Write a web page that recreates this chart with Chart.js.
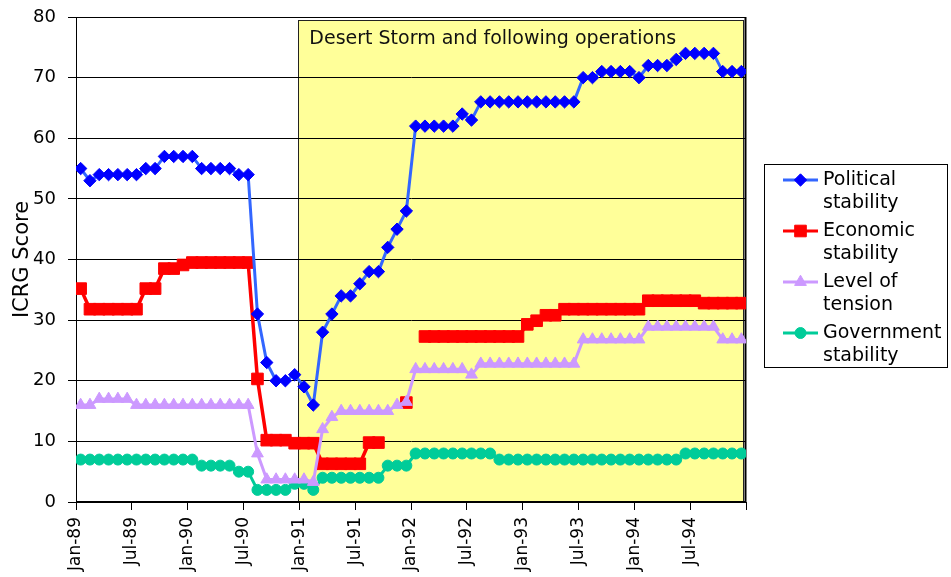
<!DOCTYPE html>
<html>
<head>
<meta charset="utf-8">
<script src="https://cdn.jsdelivr.net/npm/chart.js@4.4.1/dist/chart.umd.min.js"></script>
<style>
html,body{margin:0;padding:0;background:#fff;}
#wrap{width:951px;height:577px;position:relative;}
canvas{display:block;}
</style>
</head>
<body>
<div id="wrap"><canvas id="c" width="951" height="577"></canvas></div>
<script>
// ---- Data ----
const months = [
  'Jan-89','Feb-89','Mar-89','Apr-89','May-89','Jun-89','Jul-89','Aug-89','Sep-89','Oct-89','Nov-89','Dec-89',
  'Jan-90','Feb-90','Mar-90','Apr-90','May-90','Jun-90','Jul-90','Aug-90','Sep-90','Oct-90','Nov-90','Dec-90',
  'Jan-91','Feb-91','Mar-91','Apr-91','May-91','Jun-91','Jul-91','Aug-91','Sep-91','Oct-91','Nov-91','Dec-91',
  'Jan-92','Feb-92','Mar-92','Apr-92','May-92','Jun-92','Jul-92','Aug-92','Sep-92','Oct-92','Nov-92','Dec-92',
  'Jan-93','Feb-93','Mar-93','Apr-93','May-93','Jun-93','Jul-93','Aug-93','Sep-93','Oct-93','Nov-93','Dec-93',
  'Jan-94','Feb-94','Mar-94','Apr-94','May-94','Jun-94','Jul-94','Aug-94','Sep-94','Oct-94','Nov-94','Dec-94'
];

const politicalStability = [
  55,53,54,54,54,54,54,55,55,57,57,57,
  57,55,55,55,55,54,54,31,23,20,20,21,
  19,16,28,31,34,34,36,38,38,42,45,48,
  62,62,62,62,62,64,63,66,66,66,66,66,
  66,66,66,66,66,66,70,70,71,71,71,71,
  70,72,72,72,73,74,74,74,74,71,71,71
];

const economicStability = [
  35.2,31.8,31.8,31.8,31.8,31.8,31.8,35.2,35.2,38.5,38.5,39.1,
  39.5,39.5,39.5,39.5,39.5,39.5,39.5,20.3,10.2,10.2,10.2,9.7,
  9.7,9.7,6.3,6.3,6.3,6.3,6.3,9.8,9.8,null,null,16.4,
  null,27.3,27.3,27.3,27.3,27.3,27.3,27.3,27.3,27.3,27.3,27.3,
  29.3,29.9,30.8,30.8,31.8,31.8,31.8,31.8,31.8,31.8,31.8,31.8,
  31.8,33.2,33.2,33.2,33.2,33.2,33.2,32.8,32.8,32.8,32.8,32.8
];

const levelOfTension = [
  16,16,17,17,17,17,16,16,16,16,16,16,
  16,16,16,16,16,16,16,8,3.7,3.7,3.7,3.7,
  3.7,3.3,12,14,15,15,15,15,15,15,16,16.5,
  21.9,21.9,21.9,21.9,21.9,21.9,21,22.8,22.8,22.8,22.8,22.8,
  22.8,22.8,22.8,22.8,22.8,22.8,26.8,26.8,26.8,26.8,26.8,26.8,
  26.8,28.9,28.9,28.9,28.9,28.9,28.9,28.9,28.9,26.8,26.8,26.8
];

const governmentStability = [
  7,7,7,7,7,7,7,7,7,7,7,7,
  7,6,6,6,6,5,5,2,2,2,2,3,
  3,2,4,4,4,4,4,4,4,6,6,6,
  8,8,8,8,8,8,8,8,8,7,7,7,
  7,7,7,7,7,7,7,7,7,7,7,7,
  7,7,7,7,7,8,8,8,8,8,8,8
];

const seriesNames = [
  ['Political', 'stability'],
  ['Economic', 'stability'],
  ['Level of', 'tension'],
  ['Government', 'stability']
];

const yAxisTitle = 'ICRG Score';
const shadeStartMonth = 'Jan-91';
const shadeTopValue = 79.5;
const shadeLabel = 'Desert Storm and following operations';

// ---- Build ----
const toPoints = vals => vals.map((v, i) => ({ x: i + 0.5, y: v }));
const FONT = '"DejaVu Sans", "Noto Sans", sans-serif';
Chart.defaults.font.family = FONT;
Chart.defaults.color = '#000';

function drawMarker(ctx, style, r, x, y, fill) {
  ctx.save();
  ctx.fillStyle = fill; ctx.strokeStyle = fill; ctx.lineWidth = 1;
  ctx.beginPath();
  if (style === 'circle') {
    ctx.arc(x, y, r, 0, Math.PI * 2);
  } else if (style === 'rect') {
    const s = Math.SQRT1_2 * r;
    ctx.rect(x - s, y - s, 2 * s, 2 * s);
  } else if (style === 'rectRot') {
    ctx.moveTo(x - r, y); ctx.lineTo(x, y - r); ctx.lineTo(x + r, y); ctx.lineTo(x, y + r); ctx.closePath();
  } else if (style === 'triangle') {
    ctx.moveTo(x, y - r);
    ctx.lineTo(x + Math.sin(2 * Math.PI / 3) * r, y + r / 2);
    ctx.lineTo(x - Math.sin(2 * Math.PI / 3) * r, y + r / 2);
    ctx.closePath();
  }
  ctx.fill(); ctx.stroke();
  ctx.restore();
}

const shadePlugin = {
  id: 'shade',
  beforeDraw(chart) {
    const { ctx, chartArea: a, scales: { x, y } } = chart;
    const x0 = Math.round(x.getPixelForValue(months.indexOf(shadeStartMonth))) - 0.5;
    const x1 = Math.round(x.getPixelForValue(months.length)) - 2.5;
    const y0 = Math.round(y.getPixelForValue(shadeTopValue)) + 0.5;
    const y1 = a.bottom;
    ctx.save();
    ctx.fillStyle = '#ffff99';
    ctx.fillRect(x0, y0, x1 - x0, y1 - y0);
    ctx.strokeStyle = '#222';
    ctx.lineWidth = 1;
    ctx.strokeRect(x0, y0, x1 - x0, y1 - y0);
    ctx.restore();
  },
  beforeDatasetsDraw(chart) {
    const { ctx, chartArea: a, scales: { x, y } } = chart;
    ctx.save();
    ctx.strokeStyle = '#000';
    ctx.lineWidth = 1;
    ctx.strokeRect(Math.round(a.left) + 0.5, Math.round(a.top) + 0.5,
                   Math.round(a.right - a.left) - 1, Math.round(a.bottom - a.top) - 1);
    ctx.beginPath();
    ctx.moveTo(Math.round(a.right) - 0.5, a.top);
    ctx.lineTo(Math.round(a.right) - 0.5, a.bottom);
    ctx.lineWidth = 2;
    ctx.stroke();
    ctx.fillStyle = '#111';
    ctx.font = '19px ' + FONT;
    ctx.textBaseline = 'alphabetic';
    ctx.textAlign = 'left';
    const tx = x.getPixelForValue(months.indexOf(shadeStartMonth)) + 10;
    const ty = y.getPixelForValue(shadeTopValue) + 24;
    ctx.fillText(shadeLabel, tx, ty);
    ctx.restore();
  }
};

const legendPlugin = {
  id: 'boxLegend',
  afterDraw(chart) {
    const { ctx } = chart;
    const bx = 764.5, by = 164.5, bw = 183, bh = 203;
    ctx.save();
    ctx.strokeStyle = '#000';
    ctx.lineWidth = 1;
    ctx.strokeRect(bx, by, bw, bh);
    ctx.font = '19px ' + FONT;
    ctx.textBaseline = 'middle';
    ctx.textAlign = 'left';
    chart.data.datasets.forEach((ds, i) => {
      const yy = 180 + i * 51;
      ctx.beginPath();
      ctx.strokeStyle = ds.borderColor;
      ctx.lineWidth = 3;
      ctx.moveTo(783, yy); ctx.lineTo(818, yy);
      ctx.stroke();
      drawMarker(ctx, ds.pointStyle, ds.pointRadius, 800.5, yy, ds.pointBackgroundColor);
      ctx.fillStyle = '#000';
      seriesNames[i].forEach((line, j) => ctx.fillText(line, 823, yy + j * 22.7));
    });
    ctx.restore();
  }
};

const datasets = [
  { label: seriesNames[0].join(' '), data: toPoints(politicalStability),
    borderColor: '#3366ff', borderWidth: 3, pointStyle: 'rectRot', pointRadius: 6.2,
    pointBackgroundColor: '#0000ff', pointBorderColor: '#0000ff', pointBorderWidth: 1, order: 0 },
  { label: seriesNames[1].join(' '), data: toPoints(economicStability),
    borderColor: '#ff0000', borderWidth: 3.5, pointStyle: 'rect', pointRadius: 8.2,
    pointBackgroundColor: '#ff0000', pointBorderColor: '#ff0000', pointBorderWidth: 1, order: 2 },
  { label: seriesNames[2].join(' '), data: toPoints(levelOfTension),
    borderColor: '#cc99ff', borderWidth: 3, pointStyle: 'triangle', pointRadius: 6.8,
    pointBackgroundColor: '#cc99ff', pointBorderColor: '#cc99ff', pointBorderWidth: 1, order: 1 },
  { label: seriesNames[3].join(' '), data: toPoints(governmentStability),
    borderColor: '#00cc99', borderWidth: 3, pointStyle: 'circle', pointRadius: 5.5,
    pointBackgroundColor: '#00cc99', pointBorderColor: '#00cc99', pointBorderWidth: 1, order: 3 }
];

new Chart(document.getElementById('c'), {
  type: 'line',
  data: { datasets },
  plugins: [shadePlugin, legendPlugin],
  options: {
    responsive: false,
    devicePixelRatio: 1,
    animation: false,
    spanGaps: false,
    layout: { padding: { top: 17, right: 205, left: 0, bottom: 0 } },
    elements: { line: { tension: 0 } },
    plugins: { legend: { display: false }, tooltip: { enabled: false } },
    scales: {
      x: {
        type: 'linear', min: 0, max: months.length,
        ticks: {
          stepSize: 6, autoSkip: false, minRotation: 90, maxRotation: 90,
          font: { size: 17 }, color: '#000', padding: 7,
          callback: v => months[Math.round(v)] || ''
        },
        grid: { drawOnChartArea: false, drawTicks: true, tickLength: 8, color: '#000', lineWidth: 1 },
        border: { display: true, color: '#000', width: 1 },
        afterFit: s => { s.height = 75; }
      },
      y: {
        min: 0, max: 80,
        ticks: { stepSize: 10, font: { size: 18 }, color: '#000', padding: 12 },
        grid: { color: '#000', lineWidth: 1, tickLength: 8, drawTicks: true },
        border: { display: true, color: '#000', width: 1 },
        title: { display: true, text: yAxisTitle, font: { size: 21 }, color: '#000', padding: { top: 10, bottom: 0 } },
        afterFit: s => { s.width = 76; s.paddingTop = 0; s.paddingBottom = 0; }
      }
    }
  }
});
</script>
</body>
</html>
